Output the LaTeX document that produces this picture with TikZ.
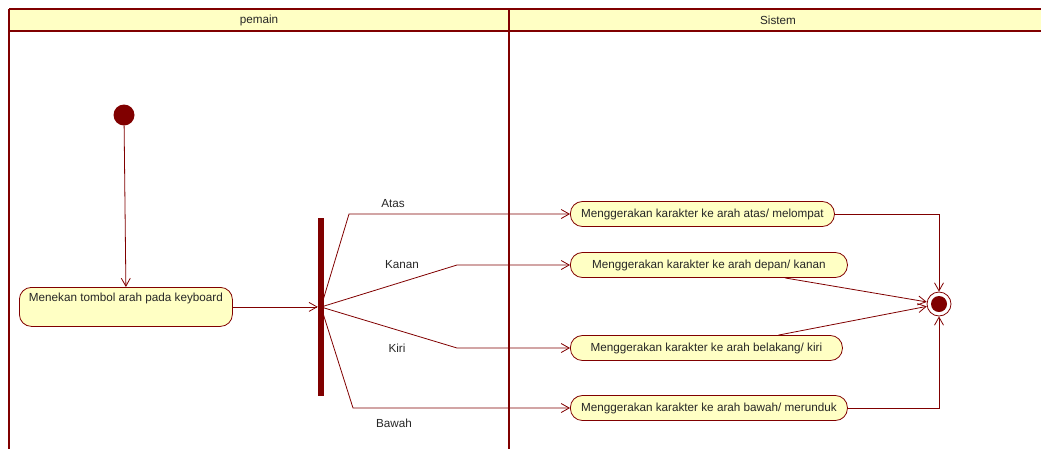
\documentclass[tikz,border=0pt]{standalone}
\usepackage{fontspec}
\setmainfont{Liberation Sans}
\usetikzlibrary{arrows.meta}
\definecolor{umlred}{HTML}{800000}
\definecolor{umlfill}{HTML}{FFFFC4}
\begin{document}
\begin{tikzpicture}[x=1pt,y=-1pt,
  every node/.style={font=\fontsize{11.7}{14}\selectfont, text=black!85},
  lane/.style={draw=umlred, line width=2pt},
  action/.style={draw=umlred, fill=umlfill, line width=0.8pt, rounded corners=12pt,
    minimum height=25pt, inner xsep=6pt, inner ysep=3pt},
  flow/.style={draw=umlred, line width=0.8pt, -{Straight Barb[length=8pt,width=9pt,line width=0.8pt]}},
  guard/.style={inner sep=1pt}
]
\useasboundingbox (0,0) rectangle (1041,448);

% swimlane frame and headers
\fill[umlfill] (9,9) rectangle (1045,31);
\draw[lane] (9,9) -- (1045,9);
\draw[lane] (9,31) -- (1045,31);
\draw[lane] (9,9) -- (9,450);
\draw[lane] (509,9) -- (509,450);
\node (hPemain) at (259,20) {pemain};
\node (hSistem) at (778,20) {Sistem};

% start and first action
\node[circle, fill=umlred, minimum size=21pt, inner sep=0pt] (init) at (124,115) {};
\node[action, anchor=north west, minimum width=213pt, text height=12pt, text depth=23pt,
      inner ysep=2pt] (act0) at (19,287) {Menekan tombol arah pada keyboard};

% fork bar
\node[rectangle, fill=umlred, minimum width=6pt, minimum height=178pt, inner sep=0pt] (fork) at (321,307) {};

% system actions
\node[action, anchor=west, minimum width=264pt] (aAtas) at (570,214) {Menggerakan karakter ke arah atas/ melompat};
\node[action, anchor=west, minimum width=277pt] (aKanan) at (570,265) {Menggerakan karakter ke arah depan/ kanan};
\node[action, anchor=west, minimum width=272pt] (aKiri) at (570,348) {Menggerakan karakter ke arah belakang/ kiri};
\node[action, anchor=west, minimum width=277pt] (aBawah) at (570,408) {Menggerakan karakter ke arah bawah/ merunduk};

% final node
\node[circle, draw=umlred, fill=white, line width=0.8pt, minimum size=24pt, inner sep=0pt] (fin) at (939,304) {};
\node[circle, fill=umlred, minimum size=16pt, inner sep=0pt] (finDot) at (fin.center) {};

% flows
\draw[flow] (init) -- (act0.north);
\draw[flow] (act0.east) -- (act0.east -| fork.west);

\draw[flow] (fork.center) -- (349,214) -- (aAtas.west);
\draw[flow] (fork.center) -- (457,265) -- (aKanan.west);
\draw[flow] (fork.center) -- (457,348) -- (aKiri.west);
\draw[flow] (fork.center) -- (353,408) -- (aBawah.west);

\draw[flow] (aAtas.east) -| (fin.north);
\draw[flow] ([xshift=76pt]aKanan.south) -- (fin);
\draw[flow] ([xshift=72pt]aKiri.north) -- (fin);
\draw[flow] (aBawah.east) -| (fin.south);

% guard labels
\node[guard] (gAtas) at (393,204) {Atas};
\node[guard] (gKanan) at (402,265) {Kanan};
\node[guard] (gKiri) at (397,348) {Kiri};
\node[guard] (gBawah) at (394,423) {Bawah};
\end{tikzpicture}
\end{document}
